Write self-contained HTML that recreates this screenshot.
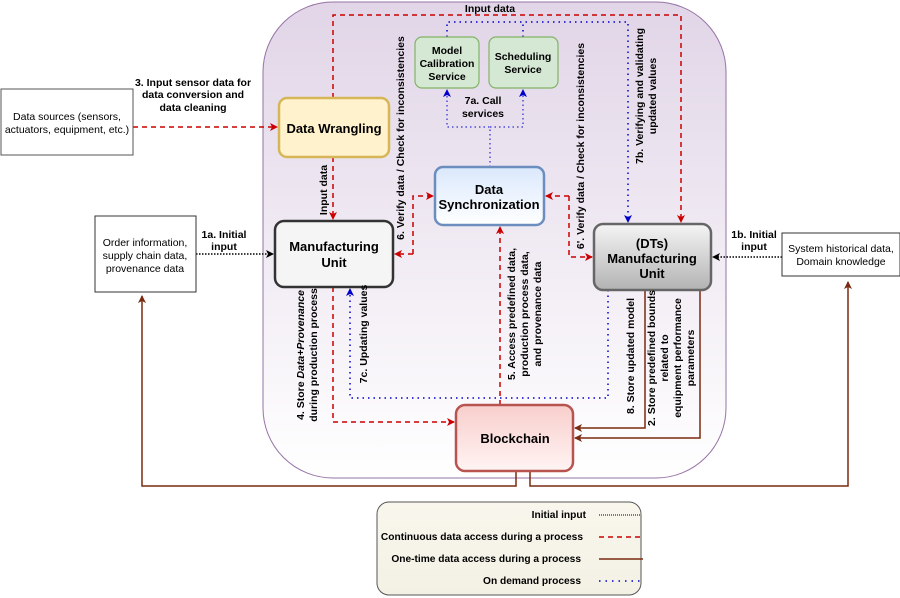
<!DOCTYPE html>
<html><head><meta charset="utf-8"><style>
body{margin:0;background:#fff;}
svg{display:block;font-family:"Liberation Sans",Arial,sans-serif;}
.b{font-weight:bold;}
</style></head><body>
<svg width="900" height="598" viewBox="0 0 900 598" xmlns="http://www.w3.org/2000/svg">
<defs>
<linearGradient id="gc" x1="0" y1="0" x2="0" y2="1"><stop offset="0" stop-color="#e1d5e7"/><stop offset="1" stop-color="#ffffff"/></linearGradient>
<linearGradient id="gs" x1="0" y1="0" x2="0" y2="1"><stop offset="0" stop-color="#dae8fc"/><stop offset="1" stop-color="#ffffff"/></linearGradient>
<linearGradient id="gd" x1="0" y1="0" x2="0" y2="1"><stop offset="0" stop-color="#f5f5f5"/><stop offset="1" stop-color="#b3b3b3"/></linearGradient>
<linearGradient id="gb" x1="0" y1="0" x2="0" y2="1"><stop offset="0" stop-color="#f8cecc"/><stop offset="1" stop-color="#fff4f3"/></linearGradient>
<linearGradient id="gl" x1="0" y1="0" x2="0" y2="1"><stop offset="0" stop-color="#f9f7ed"/><stop offset="1" stop-color="#f3f1e4"/></linearGradient>
<marker id="ar" markerWidth="8" markerHeight="8" refX="7" refY="4" orient="auto" markerUnits="userSpaceOnUse"><path d="M0,0 L8,4 L0,8 L2,4z" fill="#c00"/></marker>
<marker id="ab" markerWidth="8" markerHeight="8" refX="7" refY="4" orient="auto" markerUnits="userSpaceOnUse"><path d="M0,0 L8,4 L0,8 L2,4z" fill="#00c"/></marker>
<marker id="ak" markerWidth="8" markerHeight="8" refX="7" refY="4" orient="auto" markerUnits="userSpaceOnUse"><path d="M0,0 L8,4 L0,8 L2,4z" fill="#000"/></marker>
<marker id="aw" markerWidth="8" markerHeight="8" refX="7" refY="4" orient="auto" markerUnits="userSpaceOnUse"><path d="M0,0 L8,4 L0,8 L2,4z" fill="#7a2a10"/></marker>
</defs>
<rect x="263" y="2" width="463" height="476" rx="70" fill="url(#gc)" stroke="#9673a6" stroke-width="1"/>

<g fill="none" stroke-width="1.5">
<path d="M333,98 V15 H681 V222" stroke="#c00" stroke-dasharray="5,4" marker-end="url(#ar)"/>
<path d="M447,37 V22 H628 V222" stroke="#00c" stroke-dasharray="1.5,4" marker-end="url(#ab)"/>
<path d="M523,37 V22" stroke="#00c" stroke-dasharray="1.5,4"/>
<path d="M490,167 V127 H447 V90" stroke="#00c" stroke-dasharray="1.5,3" stroke-width="1" marker-end="url(#ab)"/>
<path d="M490,127 H523 V90" stroke="#00c" stroke-dasharray="1.5,3" stroke-width="1" marker-end="url(#ab)"/>
<path d="M333,157 V219" stroke="#c00" stroke-dasharray="5,4" marker-end="url(#ar)"/>
<path d="M413,254 H395" stroke="#c00" stroke-dasharray="5,4" marker-end="url(#ar)"/>
<path d="M413,254 V196 H433" stroke="#c00" stroke-dasharray="5,4" marker-end="url(#ar)"/>
<path d="M569,196 H546" stroke="#c00" stroke-dasharray="5,4" marker-end="url(#ar)"/>
<path d="M569,196 V257 H592" stroke="#c00" stroke-dasharray="5,4" marker-end="url(#ar)"/>
<path d="M500,405 V227" stroke="#c00" stroke-dasharray="5,4" marker-end="url(#ar)"/>
<path d="M333,287 V422 H454" stroke="#c00" stroke-dasharray="5,4" marker-end="url(#ar)"/>
<path d="M608,290 V398 H350 V289" stroke="#00c" stroke-dasharray="1.5,4" marker-end="url(#ab)"/>
<path d="M645,290 V428 H575" stroke="#7a2a10" marker-end="url(#aw)"/>
<path d="M700,290 V438 H575" stroke="#7a2a10" marker-end="url(#aw)"/>
<path d="M516,471 V486 H142 V296" stroke="#7a2a10" marker-end="url(#aw)"/>
<path d="M530,471 V486 H848 V282" stroke="#7a2a10" marker-end="url(#aw)"/>
<path d="M133,127 H277" stroke="#c00" stroke-dasharray="5,4" marker-end="url(#ar)"/>
<path d="M196,254 H273" stroke="#000" stroke-dasharray="1.5,1.5" marker-end="url(#ak)"/>
<path d="M782,257 H713" stroke="#000" stroke-dasharray="1.5,1.5" marker-end="url(#ak)"/>
</g>

<rect x="279" y="98" width="110" height="59" rx="8" fill="#fff2cc" stroke="#d6b656" stroke-width="2.5"/>
<text x="334" y="133" text-anchor="middle" font-size="13" class="b">Data Wrangling</text>
<rect x="275" y="221" width="118" height="66" rx="9" fill="#f5f5f5" stroke="#333" stroke-width="2.5"/>
<text x="334" y="251" text-anchor="middle" font-size="13" class="b">Manufacturing</text>
<text x="334" y="267" text-anchor="middle" font-size="13" class="b">Unit</text>
<rect x="435" y="167" width="109" height="58" rx="8" fill="url(#gs)" stroke="#6c8ebf" stroke-width="2.5"/>
<text x="489" y="194" text-anchor="middle" font-size="13" class="b">Data</text>
<text x="489" y="209" text-anchor="middle" font-size="13" class="b">Synchronization</text>
<rect x="415" y="37" width="64" height="51" rx="7" fill="#d5e8d4" stroke="#82b366" stroke-width="1.2"/>
<text x="447" y="54" text-anchor="middle" font-size="10.5" class="b">Model</text>
<text x="447" y="67" text-anchor="middle" font-size="10.5" class="b">Calibration</text>
<text x="447" y="80" text-anchor="middle" font-size="10.5" class="b">Service</text>
<rect x="489" y="37" width="69" height="51" rx="7" fill="#d5e8d4" stroke="#82b366" stroke-width="1.2"/>
<text x="523" y="60" text-anchor="middle" font-size="10.5" class="b">Scheduling</text>
<text x="523" y="73" text-anchor="middle" font-size="10.5" class="b">Service</text>
<rect x="594" y="224" width="117" height="66" rx="9" fill="url(#gd)" stroke="#666" stroke-width="2.5"/>
<text x="652" y="248" text-anchor="middle" font-size="13" class="b">(DTs)</text>
<text x="652" y="263" text-anchor="middle" font-size="13" class="b">Manufacturing</text>
<text x="652" y="278" text-anchor="middle" font-size="13" class="b">Unit</text>
<rect x="456" y="405" width="117" height="66" rx="9" fill="url(#gb)" stroke="#b85450" stroke-width="2.5"/>
<text x="515" y="443" text-anchor="middle" font-size="13" class="b">Blockchain</text>

<rect x="1" y="89" width="132" height="66" fill="#fff" stroke="#555" stroke-width="1"/>
<text x="67" y="120" text-anchor="middle" font-size="10.5">Data sources (sensors,</text>
<text x="67" y="133" text-anchor="middle" font-size="10.5">actuators, equipment, etc.)</text>
<rect x="95" y="216" width="101" height="76" fill="#fff" stroke="#333" stroke-width="1"/>
<text x="145" y="246" text-anchor="middle" font-size="10.5">Order information,</text>
<text x="145" y="259" text-anchor="middle" font-size="10.5">supply chain data,</text>
<text x="145" y="272" text-anchor="middle" font-size="10.5">provenance data</text>
<rect x="782" y="233" width="118" height="43" fill="#fff" stroke="#333" stroke-width="1"/>
<text x="841" y="252" text-anchor="middle" font-size="10.5">System historical data,</text>
<text x="841" y="265" text-anchor="middle" font-size="10.5">Domain knowledge</text>

<g font-size="10.5" text-anchor="middle" font-weight="bold">
<text x="490" y="12">Input data</text>
<text x="193" y="86">3. Input sensor data for</text>
<text x="193" y="98">data conversion and</text>
<text x="193" y="111">data cleaning</text>
<text x="224" y="238">1a. Initial</text>
<text x="224" y="250">input</text>
<text x="754" y="238">1b. Initial</text>
<text x="754" y="250">input</text>
<text x="483" y="104">7a. Call</text>
<text x="483" y="117">services</text>
<text transform="translate(327,190) rotate(-90)">Input data</text>
<text transform="translate(404,138) rotate(-90)">6. Verify data / Check for inconsistencies</text>
<text transform="translate(584,146) rotate(-90)">6'. Verify data / Check for inconsistencies</text>
<text transform="translate(643,96) rotate(-90)">7b. Verifying and validating</text>
<text transform="translate(656,96) rotate(-90)">updated values</text>
<text transform="translate(515,314) rotate(-90)">5. Access predefined data,</text>
<text transform="translate(528,314) rotate(-90)">production process data,</text>
<text transform="translate(541,314) rotate(-90)">and provenance data</text>
<text transform="translate(304,355) rotate(-90)">4. Store <tspan font-style="italic">Data+Provenance</tspan></text>
<text transform="translate(317,355) rotate(-90)">during production process</text>
<text transform="translate(367,334) rotate(-90)">7c. Updating values</text>
<text transform="translate(634,356) rotate(-90)">8. Store updated model</text>
<text transform="translate(655,358) rotate(-90)">2. Store predefined bounds</text>
<text transform="translate(668,358) rotate(-90)">related to</text>
<text transform="translate(681,358) rotate(-90)">equipment performance</text>
<text transform="translate(694,358) rotate(-90)">parameters</text>
</g>

<rect x="377" y="502" width="264" height="93" rx="12" fill="url(#gl)" stroke="#555" stroke-width="1"/>
<g font-size="10.2" font-weight="bold" text-anchor="end">
<text x="586" y="518">Initial input</text>
<text x="583" y="540">Continuous data access during a process</text>
<text x="581" y="562">One-time data access during a process</text>
<text x="581" y="584">On demand process</text>
</g>
<g fill="none" stroke-width="1.5">
<path d="M599,515 H640" stroke="#000" stroke-dasharray="1,1" stroke-width="1"/>
<path d="M599,537 H640" stroke="#c00" stroke-dasharray="5,4"/>
<path d="M599,559 H643" stroke="#7a2a10"/>
<path d="M599,581 H640" stroke="#00c" stroke-dasharray="1.5,5"/>
</g>
</svg>
</body></html>
